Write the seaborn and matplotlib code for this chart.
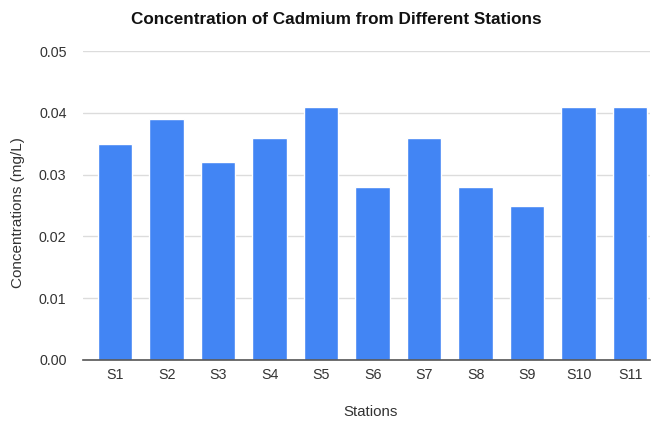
import matplotlib
matplotlib.use("Agg")
import matplotlib.pyplot as plt
import seaborn as sns
import pandas as pd

stations = ["S1", "S2", "S3", "S4", "S5", "S6", "S7", "S8", "S9", "S10", "S11"]
concentrations = [0.035, 0.039, 0.032, 0.036, 0.041, 0.028, 0.036, 0.028, 0.025, 0.041, 0.041]
yticks = [0.00, 0.01, 0.02, 0.03, 0.04, 0.05]

sns.set_theme(style="white")
plt.rcParams['font.family'] = ['Liberation Sans', 'DejaVu Sans']

df = pd.DataFrame({"Stations": stations, "Concentration": concentrations})

fig = plt.figure(figsize=(6.55, 4.22), dpi=100)
ax = fig.add_axes([0.127, 0.147, 0.865, 0.732])
sns.barplot(data=df, x="Stations", y="Concentration", color="#4285F4",
            saturation=1, width=0.67, ax=ax, zorder=3)

ax.set_ylim(0, 0.05)
ax.set_yticks(yticks)
ax.set_yticklabels([f"{v:.2f}" for v in yticks])
ax.set_xlim(-0.62, 10.38)
ax.grid(axis="y", color="#dcdcdc", linewidth=1, zorder=0)
ax.grid(axis="x", visible=False)
for s in ["top", "right", "left"]:
    ax.spines[s].set_visible(False)
ax.spines["bottom"].set_color("#555555")
ax.spines["bottom"].set_linewidth(1.2)
ax.spines["bottom"].set_zorder(4)
ax.tick_params(axis="both", length=0, labelsize=10.3, colors="#333333")
ax.tick_params(axis="x", pad=6)
ax.tick_params(axis="y", pad=12)

ax.set_xlabel("Stations", fontsize=10.8, color="#333333")
ax.xaxis.set_label_coords((371 - 83) / 567, -(412 - 360) / 309)
ax.xaxis.label.set_va("center")
ax.set_ylabel("Concentrations (mg/L)", fontsize=11, color="#333333")
ax.yaxis.set_label_coords((18 - 83) / 567, (360 - 213) / 309)
ax.yaxis.label.set_va("center")
fig.text(336 / 655, 1 - 20 / 422, "Concentration of Cadmium from Different Stations",
         ha="center", va="center", fontsize=12.3, fontweight="bold", color="#111111")

fig.savefig("out.png", dpi=100)
